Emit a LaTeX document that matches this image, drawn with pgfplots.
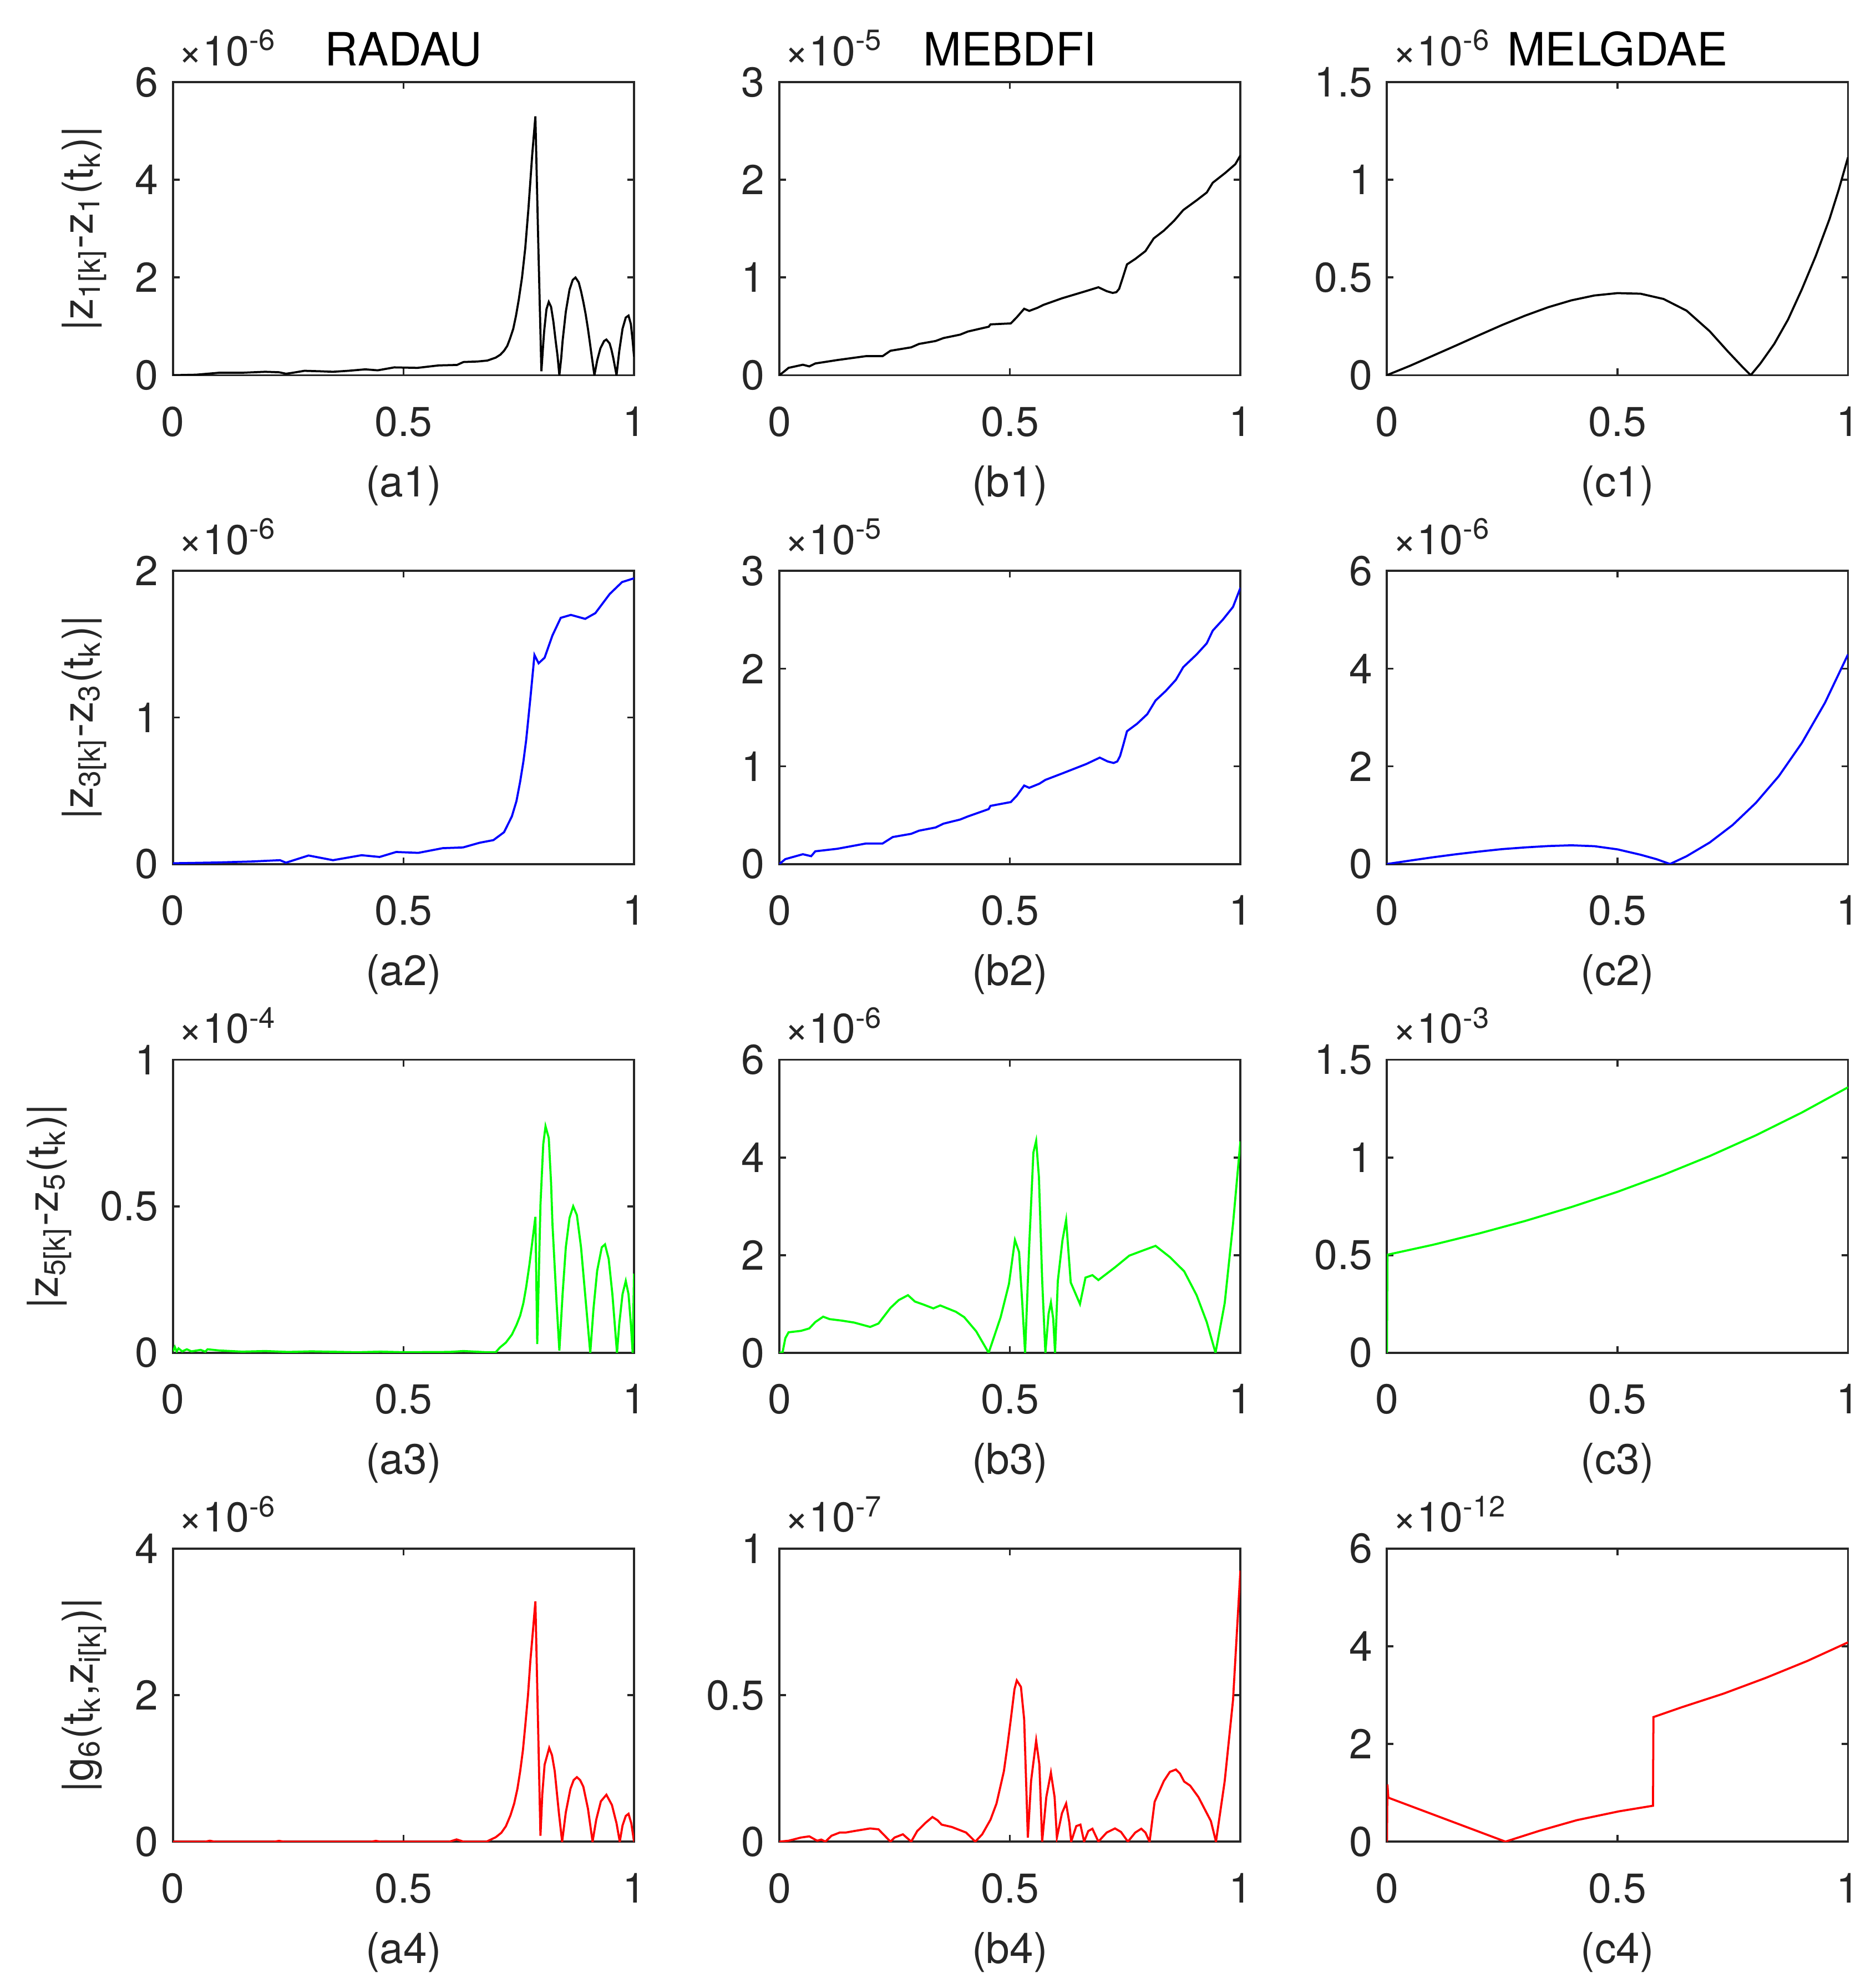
\documentclass[border=0pt]{standalone}
\usepackage{fontspec}
\setmainfont{TeX Gyre Heros}
\usepackage{pgfplots}
\pgfplotsset{compat=1.18}
\definecolor{mgray}{rgb}{0.15,0.15,0.15}
\pgfplotsset{
  panel/.style={
    scale only axis, width=110.6pt, height=70.3pt,
    xmin=0, xmax=1, xtick={0,0.5,1},
    tick align=inside, tick pos=both,
    major tick length=1.6pt,
    scaled y ticks=false,
    axis line style={draw=mgray, line width=0.5pt},
    tick style={draw=mgray, line width=0.5pt},
    /pgf/number format/assume math mode=true,
    tick label style={font=\fontsize{10}{12}\selectfont, text=mgray},
    xticklabel style={yshift=-4pt},
    label style={font=\fontsize{10.2}{12}\selectfont, text=mgray},
    xlabel style={at={(axis description cs:0.5,0)}, anchor=center, yshift=-26.5pt},
    every axis title/.style={at={(axis description cs:0.5,1)}, anchor=base, yshift=4pt,
      font=\fontsize{11}{13}\selectfont, text=black},
    anchor=north west,
  },
  mult/.style={extra description/.code={
    \node[anchor=base west, inner sep=0pt, text=mgray, font=\fontsize{10}{12}\selectfont]
      at (axis description cs:0.01,1) [yshift=4pt] {×10\textsuperscript{#1}};}},
  every axis plot/.append style={line width=0.5pt},
}
\begin{document}
\begin{tikzpicture}

% ---- row 1 ----
\begin{axis}[panel, at={(0.4pt,-0.2pt)}, ymin=0, ymax=6, ytick={0,2,4,6}, mult=-6,
  title={RADAU}, xlabel={(a1)},
  ylabel={|z\textsubscript{1[k]}-z\textsubscript{1}(t\textsubscript{k})|}]
\addplot[black] coordinates {
(0,0) (0.05,0.01) (0.1,0.05) (0.15,0.05) (0.2,0.07) (0.23,0.06) (0.245,0.03) (0.26,0.05)
(0.285,0.09) (0.32,0.08) (0.347,0.07) (0.38,0.09) (0.417,0.12) (0.444,0.1) (0.48,0.16)
(0.53,0.15) (0.576,0.2) (0.616,0.21) (0.63,0.27) (0.66,0.28) (0.682,0.3) (0.7,0.36)
(0.71,0.42) (0.718,0.5) (0.725,0.6) (0.731,0.75) (0.738,0.95) (0.744,1.22) (0.75,1.55)
(0.757,2.0) (0.764,2.6) (0.771,3.42) (0.779,4.5) (0.786,5.3)
(0.792,2.8) (0.799,0.08) (0.802,0.5) (0.805,0.9) (0.81,1.35) (0.815,1.5) (0.82,1.4)
(0.825,1.1) (0.83,0.7) (0.834,0.4) (0.838,0) (0.842,0.35) (0.845,0.7) (0.852,1.3)
(0.86,1.75) (0.867,1.95) (0.873,2.0) (0.88,1.9) (0.885,1.72) (0.89,1.5) (0.895,1.25)
(0.9,0.95) (0.904,0.68) (0.908,0.4) (0.914,0) (0.92,0.3) (0.927,0.55) (0.935,0.7)
(0.94,0.73) (0.947,0.65) (0.951,0.52) (0.955,0.35) (0.962,0) (0.968,0.5) (0.975,0.95)
(0.982,1.18) (0.988,1.22) (0.993,1.05) (0.997,0.7) (1.0,0.38)};
\end{axis}

\begin{axis}[panel, at={(145.85pt,-0.2pt)}, ymin=0, ymax=3, ytick={0,1,2,3}, mult=-5,
  title={MEBDFI}, xlabel={(b1)}]
\addplot[black] coordinates {
(0,0) (0.011,0.04) (0.02,0.075) (0.051,0.107) (0.065,0.09) (0.078,0.12) (0.126,0.155)
(0.188,0.195) (0.224,0.195) (0.241,0.25) (0.286,0.285) (0.303,0.32) (0.339,0.35)
(0.356,0.38) (0.392,0.415) (0.409,0.447) (0.454,0.496) (0.458,0.52) (0.502,0.53)
(0.515,0.593) (0.531,0.68) (0.542,0.658) (0.56,0.69) (0.573,0.72) (0.613,0.787)
(0.666,0.862) (0.692,0.9) (0.71,0.86) (0.723,0.842) (0.731,0.85) (0.737,0.884)
(0.745,1.0) (0.754,1.134) (0.772,1.19) (0.794,1.27) (0.812,1.4) (0.834,1.48)
(0.856,1.58) (0.876,1.69) (0.905,1.79) (0.927,1.87) (0.94,1.97) (0.967,2.07)
(0.989,2.16) (1.0,2.25)};
\end{axis}

\begin{axis}[panel, at={(291.6pt,-0.2pt)}, ymin=0, ymax=1.5, ytick={0,0.5,1,1.5}, mult=-6,
  title={MELGDAE}, xlabel={(c1)}]
\addplot[black] coordinates {
(0,0) (0.05,0.048) (0.1,0.1) (0.15,0.152) (0.2,0.205) (0.25,0.257) (0.3,0.305)
(0.35,0.348) (0.4,0.383) (0.45,0.408) (0.5,0.42) (0.55,0.417) (0.6,0.39) (0.65,0.33)
(0.7,0.225) (0.74,0.12) (0.77,0.045) (0.789,0) (0.81,0.06) (0.84,0.16) (0.87,0.285)
(0.9,0.44) (0.93,0.61) (0.96,0.8) (0.98,0.95) (1.0,1.115)};
\end{axis}

% ---- row 2 ----
\begin{axis}[panel, at={(0.4pt,-117.46pt)}, ymin=0, ymax=2, ytick={0,1,2}, mult=-6,
  xlabel={(a2)},
  ylabel={|z\textsubscript{3[k]}-z\textsubscript{3}(t\textsubscript{k})|}]
\addplot[blue] coordinates {
(0,0.005) (0.091,0.01) (0.17,0.017) (0.232,0.026) (0.245,0.009) (0.294,0.058)
(0.347,0.026) (0.409,0.06) (0.448,0.048) (0.484,0.082) (0.532,0.076) (0.585,0.108)
(0.629,0.113) (0.665,0.145) (0.695,0.163) (0.718,0.217) (0.735,0.325) (0.745,0.43)
(0.753,0.563) (0.76,0.7) (0.766,0.845) (0.775,1.127) (0.784,1.426) (0.793,1.37)
(0.806,1.408) (0.823,1.56) (0.841,1.68) (0.863,1.70) (0.894,1.673) (0.916,1.712)
(0.947,1.842) (0.974,1.924) (1.0,1.95)};
\end{axis}

\begin{axis}[panel, at={(145.85pt,-117.46pt)}, ymin=0, ymax=3, ytick={0,1,2,3}, mult=-5,
  xlabel={(b2)}]
\addplot[blue] coordinates {
(0,0) (0.013,0.05) (0.051,0.1) (0.069,0.08) (0.078,0.13) (0.126,0.156) (0.188,0.21)
(0.224,0.21) (0.246,0.276) (0.286,0.309) (0.303,0.341) (0.339,0.374) (0.356,0.413)
(0.392,0.455) (0.409,0.487) (0.454,0.562) (0.458,0.595) (0.502,0.634) (0.515,0.699)
(0.531,0.803) (0.542,0.78) (0.564,0.822) (0.577,0.861) (0.613,0.926) (0.666,1.024)
(0.695,1.089) (0.712,1.05) (0.725,1.034) (0.733,1.05) (0.739,1.105) (0.746,1.22)
(0.754,1.359) (0.776,1.436) (0.798,1.534) (0.816,1.674) (0.838,1.771) (0.86,1.885)
(0.876,2.015) (0.905,2.145) (0.927,2.259) (0.94,2.389) (0.962,2.502) (0.984,2.632)
(1.0,2.827)};
\end{axis}

\begin{axis}[panel, at={(291.6pt,-117.46pt)}, ymin=0, ymax=6, ytick={0,2,4,6}, mult=-6,
  xlabel={(c2)}]
\addplot[blue] coordinates {
(0,0) (0.05,0.07) (0.1,0.138) (0.15,0.2) (0.2,0.255) (0.25,0.305) (0.3,0.34)
(0.35,0.368) (0.4,0.383) (0.45,0.365) (0.5,0.3) (0.55,0.19) (0.585,0.098) (0.614,0)
(0.65,0.16) (0.7,0.44) (0.75,0.8) (0.8,1.25) (0.85,1.8) (0.9,2.48) (0.95,3.3)
(1.0,4.29)};
\end{axis}

% ---- row 3 ----
\begin{axis}[panel, at={(0.4pt,-234.72pt)}, ymin=0, ymax=1, ytick={0,0.5,1}, mult=-4,
  xlabel={(a3)},
  ylabel={|z\textsubscript{5[k]}-z\textsubscript{5}(t\textsubscript{k})|}]
\addplot[green] coordinates {
(0,0.005) (0.004,0.02) (0.008,0.005) (0.012,0.015) (0.02,0.005) (0.03,0.012) (0.04,0.005)
(0.06,0.01) (0.07,0.004) (0.075,0.012) (0.1,0.008) (0.15,0.004) (0.2,0.006) (0.25,0.003)
(0.3,0.005) (0.4,0.002) (0.45,0.004) (0.5,0.002) (0.6,0.003) (0.63,0.006) (0.68,0.002)
(0.7,0.002) (0.709,0.018) (0.722,0.035) (0.735,0.062) (0.745,0.095) (0.753,0.127)
(0.76,0.17) (0.766,0.224) (0.773,0.3) (0.779,0.375) (0.786,0.464) (0.79,0.03)
(0.797,0.505) (0.803,0.711) (0.808,0.773) (0.815,0.733) (0.82,0.58) (0.823,0.44)
(0.832,0.17) (0.838,0.008) (0.845,0.2) (0.852,0.36) (0.86,0.46) (0.868,0.5)
(0.876,0.47) (0.885,0.36) (0.895,0.18) (0.905,0) (0.912,0.15) (0.92,0.28) (0.93,0.36)
(0.937,0.37) (0.945,0.32) (0.953,0.2) (0.963,0) (0.968,0.1) (0.975,0.2) (0.982,0.245)
(0.988,0.2) (0.993,0.1) (0.997,0.0) (1.0,0.27)};
\end{axis}

\begin{axis}[panel, at={(145.85pt,-234.72pt)}, ymin=0, ymax=6, ytick={0,2,4,6}, mult=-6,
  xlabel={(b3)}]
\addplot[green] coordinates {
(0,0) (0.007,0.01) (0.013,0.3) (0.02,0.42) (0.047,0.45) (0.065,0.5) (0.078,0.63)
(0.095,0.74) (0.109,0.69) (0.135,0.66) (0.162,0.62) (0.197,0.53) (0.215,0.6)
(0.241,0.92) (0.259,1.08) (0.279,1.18) (0.294,1.05) (0.312,0.99) (0.334,0.91)
(0.349,0.97) (0.383,0.84) (0.401,0.73) (0.427,0.44) (0.454,0) (0.48,0.73) (0.498,1.41)
(0.511,2.31) (0.52,2.06) (0.527,1.0) (0.533,0) (0.542,2.2) (0.551,4.1) (0.557,4.34)
(0.563,3.6) (0.57,1.5) (0.577,0) (0.584,0.8) (0.589,1.03) (0.594,0.7) (0.598,0)
(0.604,1.47) (0.614,2.3) (0.622,2.72) (0.632,1.44) (0.652,1.0) (0.664,1.54) (0.679,1.59)
(0.692,1.49) (0.728,1.75) (0.759,1.99) (0.79,2.1) (0.816,2.19) (0.847,1.96)
(0.878,1.67) (0.905,1.18) (0.927,0.63) (0.946,0) (0.966,1.02) (0.984,2.64) (1.0,4.33)};
\end{axis}

\begin{axis}[panel, at={(291.6pt,-234.72pt)}, ymin=0, ymax=1.5, ytick={0,0.5,1,1.5}, mult=-3,
  xlabel={(c3)}]
\addplot[green] coordinates {
(0,0) (0.001,0.502) (0.1,0.553) (0.2,0.611) (0.3,0.675) (0.4,0.746) (0.5,0.824)
(0.6,0.911) (0.7,1.007) (0.8,1.113) (0.9,1.23) (1.0,1.359)};
\end{axis}

% ---- row 4 ----
\begin{axis}[panel, at={(0.4pt,-351.98pt)}, ymin=0, ymax=4, ytick={0,2,4}, mult=-6,
  xlabel={(a4)},
  ylabel={|g\textsubscript{6}(t\textsubscript{k},z\textsubscript{i[k]})|}]
\addplot[red] coordinates {
(0,0) (0.07,0.0) (0.08,0.012) (0.09,0.0) (0.22,0.0) (0.23,0.01) (0.24,0.0) (0.43,0.0)
(0.44,0.01) (0.45,0.0) (0.6,0.0) (0.615,0.03) (0.63,0.0) (0.68,0.0) (0.7,0.06)
(0.712,0.12) (0.722,0.21) (0.732,0.36) (0.74,0.52) (0.747,0.72) (0.753,0.96)
(0.759,1.25) (0.764,1.58) (0.77,2.0) (0.775,2.46) (0.781,2.9) (0.786,3.28)
(0.797,0.08) (0.801,0.65) (0.806,1.05) (0.816,1.28) (0.822,1.18) (0.828,0.96)
(0.837,0.39) (0.844,0) (0.852,0.4) (0.862,0.72) (0.869,0.84) (0.876,0.88) (0.883,0.84)
(0.89,0.75) (0.9,0.45) (0.91,0) (0.918,0.3) (0.928,0.55) (0.94,0.64) (0.952,0.5)
(0.962,0.25) (0.969,0) (0.975,0.22) (0.982,0.35) (0.988,0.38) (0.994,0.25) (1.0,0)};
\end{axis}

\begin{axis}[panel, at={(145.85pt,-351.98pt)}, ymin=0, ymax=1, ytick={0,0.5,1}, mult=-7,
  xlabel={(b4)}]
\addplot[red] coordinates {
(0,0) (0.02,0.003) (0.047,0.014) (0.065,0.018) (0.082,0.003) (0.091,0.007) (0.1,0)
(0.113,0.02) (0.131,0.031) (0.144,0.031) (0.162,0.036) (0.197,0.045) (0.215,0.042)
(0.241,0) (0.25,0.014) (0.268,0.025) (0.286,0) (0.299,0.036) (0.317,0.064) (0.332,0.084)
(0.343,0.073) (0.352,0.058) (0.374,0.05) (0.405,0.031) (0.425,0) (0.44,0.025)
(0.458,0.075) (0.471,0.13) (0.487,0.24) (0.495,0.33) (0.502,0.417) (0.51,0.52)
(0.515,0.55) (0.524,0.528) (0.531,0.417) (0.539,0.014) (0.546,0.207) (0.557,0.345)
(0.564,0.263) (0.57,0) (0.579,0.152) (0.589,0.235) (0.597,0.152) (0.602,0.014)
(0.613,0.097) (0.622,0.13) (0.629,0.064) (0.633,0) (0.644,0.053) (0.653,0.058)
(0.661,0) (0.67,0.036) (0.679,0.044) (0.692,0) (0.71,0.031) (0.728,0.045)
(0.741,0.033) (0.756,0) (0.772,0.031) (0.785,0.044) (0.794,0.031) (0.803,0)
(0.814,0.136) (0.834,0.207) (0.847,0.238) (0.86,0.246) (0.869,0.232) (0.878,0.205)
(0.891,0.191) (0.909,0.152) (0.936,0.07) (0.947,0) (0.966,0.207) (0.984,0.483)
(1.0,0.925)};
\end{axis}

\begin{axis}[panel, at={(291.6pt,-351.98pt)}, ymin=0, ymax=6, ytick={0,2,4,6}, mult=-12,
  xlabel={(c4)}]
\addplot[red] coordinates {
(0,0) (0.001,1.17) (0.003,0.9) (0.257,0) (0.33,0.22) (0.412,0.44) (0.503,0.62)
(0.577,0.735) (0.578,2.55) (0.639,2.75) (0.73,3.03) (0.821,3.35) (0.912,3.7) (1.0,4.08)};
\end{axis}

\pgfresetboundingbox
\useasboundingbox (-41.1pt,19.5pt) rectangle (408.9pt,-455pt);
\end{tikzpicture}
\end{document}
